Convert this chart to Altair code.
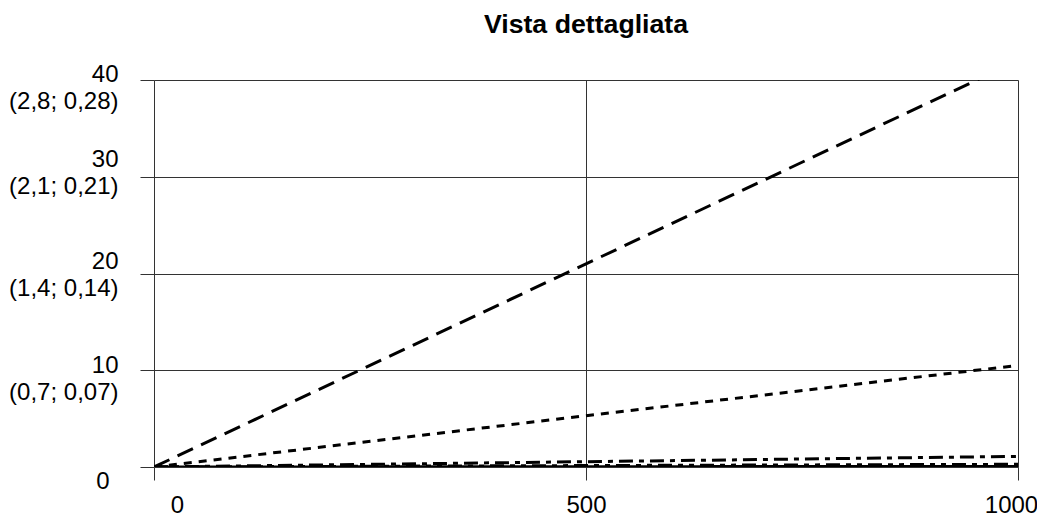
import altair as alt
import pandas as pd

# ---- data ----
series_names = ["Serie 1", "Serie 2", "Serie 3", "Serie 4", "Serie 5"]
x_values = [0, 500, 1000]
serie_1 = [0, 21.0, 42.0]
serie_2 = [0, 5.3, 10.5]
serie_3 = [0, 0.55, 1.1]
serie_4 = [0, 0.15, 0.28]
serie_5 = [0, 0.03, 0.06]

y_ticks = [0, 10, 20, 30, 40]
y_sub = ["", "(0,7; 0,07)", "(1,4; 0,14)", "(2,1; 0,21)", "(2,8; 0,28)"]
x_ticks = [0, 500, 1000]

all_series = [serie_1, serie_2, serie_3, serie_4, serie_5]
rows = []
for name, vals in zip(series_names, all_series):
    for xv, yv in zip(x_values, vals):
        rows.append({"series": name, "x": xv, "y": yv})
df = pd.DataFrame(rows)

# label expression for the two-line y labels
expr = "'0'"
for t, s in zip(reversed(y_ticks), reversed(y_sub)):
    if s:
        expr = f"datum.value == {t} ? ['{t}', '{s}'] : " + expr

FONT = "Liberation Sans"

dashes = [[17, 9], [8, 7], [14, 6, 5, 6], [14, 6, 5, 6, 5, 6], [1, 0]]

chart = alt.Chart(df).mark_line(color="black", strokeWidth=3, clip=True).encode(
    x=alt.X(
        "x:Q",
        scale=alt.Scale(domain=[0, 1000], nice=False, zero=False),
        axis=alt.Axis(
            values=x_ticks, title=None, grid=True, gridColor="#333", gridWidth=1,
            domain=False, ticks=True, tickSize=13, tickColor="#333",
            labelFont=FONT, labelFontSize=24, labelColor="black", format="d",
            labelPadding=13, labelFlush=False,
            labelOffset={"condition": [
                {"test": "datum.value == 0", "value": 23},
                {"test": "datum.value == 1000", "value": -7},
            ], "value": 0},
        ),
    ),
    y=alt.Y(
        "y:Q",
        scale=alt.Scale(domain=[0, 40], nice=False),
        axis=alt.Axis(
            values=y_ticks, title=None, grid=True, gridColor="#333", gridWidth=1,
            domain=False, ticks=True, tickSize=14, tickColor="#333",
            labelFont=FONT, labelFontSize=24, labelColor="black",
            labelLineHeight=27, labelExpr=expr, labelFlush=False,
            labelPadding={"condition": {"test": "datum.value == 0", "value": 31}, "value": 22},
            labelOffset={"condition": [
                {"test": "datum.value == 0", "value": 14},
                {"test": "datum.value == 10", "value": -5},
                {"test": "datum.value == 20", "value": -12},
                {"test": "datum.value == 30", "value": -17},
            ], "value": -6},
        ),
    ),
    strokeDash=alt.StrokeDash(
        "series:N",
        scale=alt.Scale(domain=series_names, range=dashes),
        legend=None,
    ),
    detail="series:N",
).properties(
    width=864,
    height=387,
    title=alt.Title(
        "Vista dettagliata", font=FONT, fontSize=26.7, fontWeight="bold",
        color="black", anchor="middle", frame="group", offset=23,
    ),
    autosize=alt.AutoSizeParams(type="none"),
    padding={"left": 146, "top": 72, "right": 19, "bottom": 52},
).configure_view(
    stroke="black", strokeWidth=2
).configure(background="white")

chart.save("out.html", embed_options={"renderer": "svg", "actions": False})
